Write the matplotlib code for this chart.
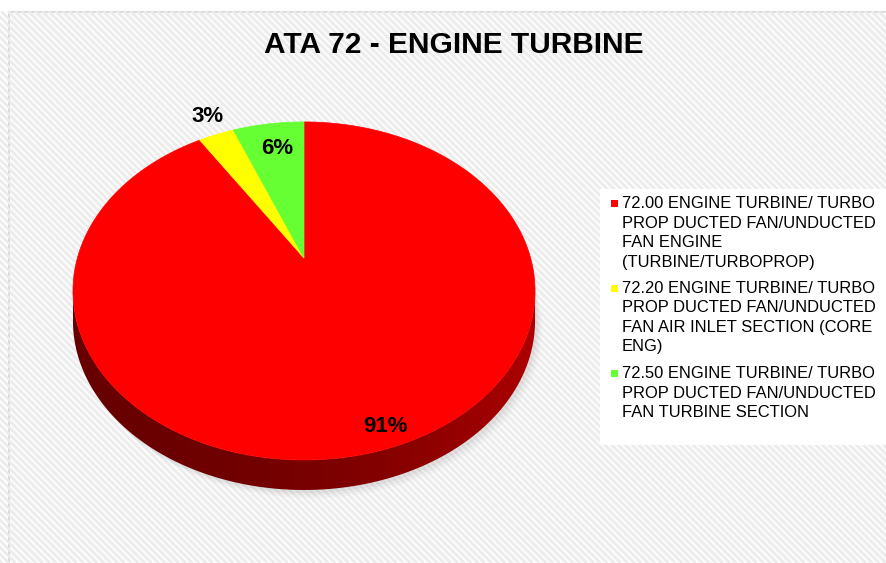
import textwrap
import numpy as np
import matplotlib
matplotlib.use("Agg")
import matplotlib.pyplot as plt
from matplotlib.patches import Polygon, Rectangle
from matplotlib.collections import LineCollection

# data
categories = [
    "72.00 ENGINE TURBINE/ TURBO PROP DUCTED FAN/UNDUCTED FAN ENGINE (TURBINE/TURBOPROP)",
    "72.20 ENGINE TURBINE/ TURBO PROP DUCTED FAN/UNDUCTED FAN AIR INLET SECTION (CORE ENG)",
    "72.50 ENGINE TURBINE/ TURBO PROP DUCTED FAN/UNDUCTED FAN TURBINE SECTION",
]
shares = [91, 3, 6]
colors = ["#ff0000", "#ffff00", "#66ff33"]
title = "ATA 72 - ENGINE TURBINE"

plt.rcParams["font.family"] = ["Liberation Sans", "DejaVu Sans"]

W, H = 886, 563
fig = plt.figure(figsize=(W / 100, H / 100), dpi=100)
ax = fig.add_axes([0, 0, 1, 1])
ax.set_xlim(0, W)
ax.set_ylim(H, 0)
ax.axis("off")

# chart area: striped background + thin border
x0, y0 = 9.5, 11.5
ax.add_patch(Rectangle((x0, y0), W - x0 + 5, H - y0 + 5, facecolor="#fcfcfc",
                       edgecolor="#d4d4d4", lw=1.2, zorder=0))
step = 6.8
cs = np.arange(-H, W + H, step)
segs = [[(c, y0), (c + (H - y0), H)] for c in cs]
lc = LineCollection(segs, colors="#ececec", linewidths=2.0, zorder=0.5)
clip = Rectangle((x0 + 1, y0 + 1), W, H, transform=ax.transData)
lc.set_clip_path(clip)
ax.add_collection(lc)

# 3d pie geometry (perspective projection of a tilted disc)
cx, cy = 304.0, 258.0
A, B, e = 226.6, 162.6, 0.195
depth = 30.0


def proj(theta, r=1.0):
    t = np.radians(theta)
    d = 1 + e * r * np.sin(t)
    return cx + A * r * np.cos(t) / d, cy - B * r * np.sin(t) / d


# soft shadow
for k, a in [(10, 0.04), (7, 0.06), (4, 0.08)]:
    sx, sy = proj(np.linspace(0, 360, 300))
    ax.add_patch(Polygon(np.column_stack([sx + k * 0.7, sy + depth + k * 0.8]), closed=True,
                         facecolor="#707070", alpha=a, lw=0, zorder=1))

# side wall with a gradient
th_side = np.linspace(180 + np.degrees(np.arcsin(e)), 360 - np.degrees(np.arcsin(e)), 300)
tx, ty = proj(th_side)
side_pts = np.vstack([np.column_stack([tx, ty]), np.column_stack([tx[::-1], ty[::-1] + depth])])
side = Polygon(side_pts, closed=True, facecolor="none", edgecolor="none", zorder=2)
ax.add_patch(side)
gx = np.linspace(0, 1, 256)
grad = np.array([0.40 + 0.10 * gx + 0.18 * gx ** 3])
rgb = np.zeros((1, 256, 3))
rgb[..., 0] = grad
im = ax.imshow(rgb, extent=(tx.min(), tx.max(), ty.max() + depth, ty.min()),
               aspect="auto", interpolation="bilinear", zorder=2)
im.set_clip_path(side)

# top face wedges, clockwise from 12 o'clock
frac = np.array(shares, dtype=float) / sum(shares)
edges = 90 - 360 * np.concatenate([[0], np.cumsum(frac)])
for i in range(len(shares)):
    th = np.linspace(edges[i], edges[i + 1], 300)
    px, py = proj(th)
    pts = np.vstack([[cx, cy], np.column_stack([px, py])])
    ax.add_patch(Polygon(pts, closed=True, facecolor=colors[i], edgecolor=colors[i],
                         lw=0.5, zorder=3))

# data labels
label_pos = [(386, 432), (208, 122), (277, 154)]
for (lx, ly), v in zip(label_pos, shares):
    ax.text(lx, ly, f"{v}%", ha="center", va="baseline", fontsize=16,
            fontweight="bold", color="black", zorder=5)

# title
ax.text(454, 53, title, ha="center", va="baseline", fontsize=21.5,
        fontweight="bold", color="black", zorder=5)

# legend
ax.add_patch(Rectangle((600, 189), 300, 256, facecolor="white", edgecolor="none", zorder=4))
base = 208
for name, col in zip(categories, colors):
    lines = textwrap.wrap(name, 27)
    ax.add_patch(Rectangle((611, base - 8), 7, 7, facecolor=col, edgecolor="none", zorder=5))
    for j, ln in enumerate(lines):
        ax.text(622, base + j * 19.5, ln, ha="left", va="baseline", fontsize=11.9,
                color="black", zorder=5)
    base += len(lines) * 19.5 + 7

fig.savefig("out.png", dpi=100, facecolor="white")
